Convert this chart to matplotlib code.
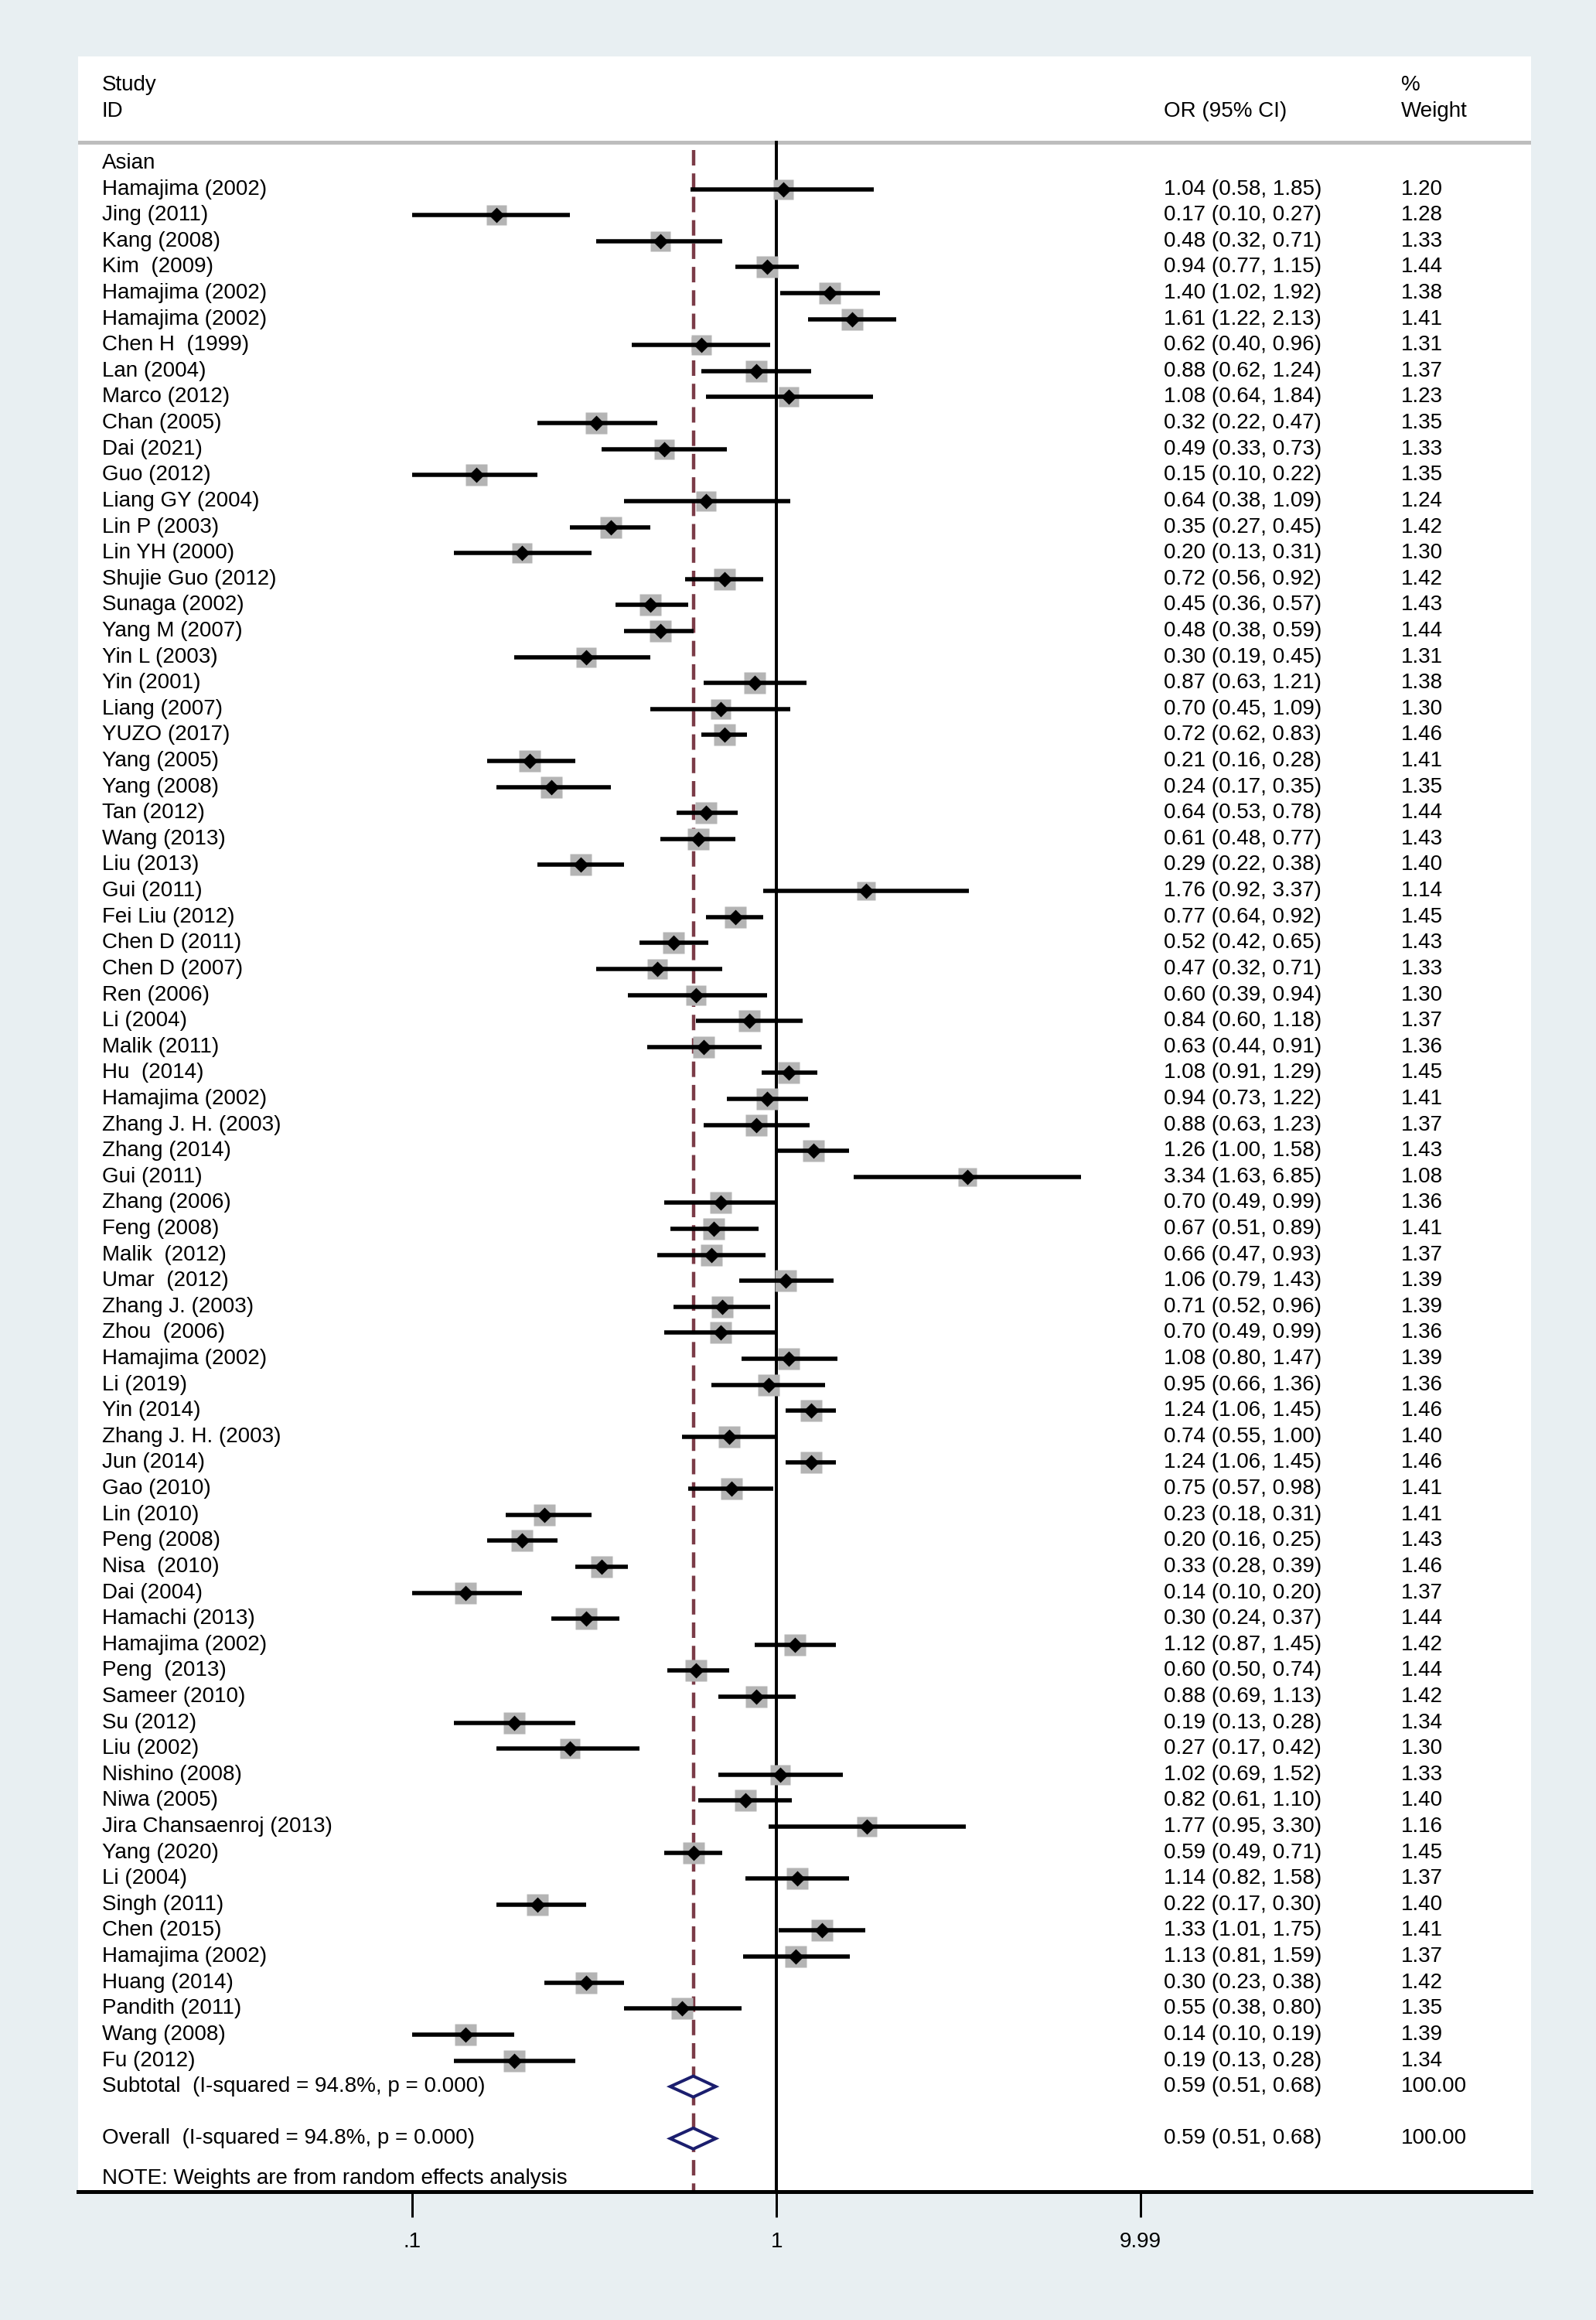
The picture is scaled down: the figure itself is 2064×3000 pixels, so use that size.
import numpy as np
import matplotlib.pyplot as plt
from matplotlib.patches import Polygon
from matplotlib.transforms import blended_transform_factory

plt.rcParams['font.family'] = ['Liberation Sans', 'DejaVu Sans']

# ---- data ----
subgroup = "Asian"
studies = [
    "Hamajima (2002)", "Jing (2011)", "Kang (2008)", "Kim  (2009)", "Hamajima (2002)",
    "Hamajima (2002)", "Chen H  (1999)", "Lan (2004)", "Marco (2012)", "Chan (2005)",
    "Dai (2021)", "Guo (2012)", "Liang GY (2004)", "Lin P (2003)", "Lin YH (2000)",
    "Shujie Guo (2012)", "Sunaga (2002)", "Yang M (2007)", "Yin L (2003)", "Yin (2001)",
    "Liang (2007)", "YUZO (2017)", "Yang (2005)", "Yang (2008)", "Tan (2012)",
    "Wang (2013)", "Liu (2013)", "Gui (2011)", "Fei Liu (2012)", "Chen D (2011)",
    "Chen D (2007)", "Ren (2006)", "Li (2004)", "Malik (2011)", "Hu  (2014)",
    "Hamajima (2002)", "Zhang J. H. (2003)", "Zhang (2014)", "Gui (2011)", "Zhang (2006)",
    "Feng (2008)", "Malik  (2012)", "Umar  (2012)", "Zhang J. (2003)", "Zhou  (2006)",
    "Hamajima (2002)", "Li (2019)", "Yin (2014)", "Zhang J. H. (2003)", "Jun (2014)",
    "Gao (2010)", "Lin (2010)", "Peng (2008)", "Nisa  (2010)", "Dai (2004)",
    "Hamachi (2013)", "Hamajima (2002)", "Peng  (2013)", "Sameer (2010)", "Su (2012)",
    "Liu (2002)", "Nishino (2008)", "Niwa (2005)", "Jira Chansaenroj (2013)", "Yang (2020)",
    "Li (2004)", "Singh (2011)", "Chen (2015)", "Hamajima (2002)", "Huang (2014)",
    "Pandith (2011)", "Wang (2008)", "Fu (2012)",
]
odds = [
    1.04, 0.17, 0.48, 0.94, 1.40, 1.61, 0.62, 0.88, 1.08, 0.32,
    0.49, 0.15, 0.64, 0.35, 0.20, 0.72, 0.45, 0.48, 0.30, 0.87,
    0.70, 0.72, 0.21, 0.24, 0.64, 0.61, 0.29, 1.76, 0.77, 0.52,
    0.47, 0.60, 0.84, 0.63, 1.08, 0.94, 0.88, 1.26, 3.34, 0.70,
    0.67, 0.66, 1.06, 0.71, 0.70, 1.08, 0.95, 1.24, 0.74, 1.24,
    0.75, 0.23, 0.20, 0.33, 0.14, 0.30, 1.12, 0.60, 0.88, 0.19,
    0.27, 1.02, 0.82, 1.77, 0.59, 1.14, 0.22, 1.33, 1.13, 0.30,
    0.55, 0.14, 0.19,
]
lower = [
    0.58, 0.10, 0.32, 0.77, 1.02, 1.22, 0.40, 0.62, 0.64, 0.22,
    0.33, 0.10, 0.38, 0.27, 0.13, 0.56, 0.36, 0.38, 0.19, 0.63,
    0.45, 0.62, 0.16, 0.17, 0.53, 0.48, 0.22, 0.92, 0.64, 0.42,
    0.32, 0.39, 0.60, 0.44, 0.91, 0.73, 0.63, 1.00, 1.63, 0.49,
    0.51, 0.47, 0.79, 0.52, 0.49, 0.80, 0.66, 1.06, 0.55, 1.06,
    0.57, 0.18, 0.16, 0.28, 0.10, 0.24, 0.87, 0.50, 0.69, 0.13,
    0.17, 0.69, 0.61, 0.95, 0.49, 0.82, 0.17, 1.01, 0.81, 0.23,
    0.38, 0.10, 0.13,
]
upper = [
    1.85, 0.27, 0.71, 1.15, 1.92, 2.13, 0.96, 1.24, 1.84, 0.47,
    0.73, 0.22, 1.09, 0.45, 0.31, 0.92, 0.57, 0.59, 0.45, 1.21,
    1.09, 0.83, 0.28, 0.35, 0.78, 0.77, 0.38, 3.37, 0.92, 0.65,
    0.71, 0.94, 1.18, 0.91, 1.29, 1.22, 1.23, 1.58, 6.85, 0.99,
    0.89, 0.93, 1.43, 0.96, 0.99, 1.47, 1.36, 1.45, 1.00, 1.45,
    0.98, 0.31, 0.25, 0.39, 0.20, 0.37, 1.45, 0.74, 1.13, 0.28,
    0.42, 1.52, 1.10, 3.30, 0.71, 1.58, 0.30, 1.75, 1.59, 0.38,
    0.80, 0.19, 0.28,
]
weights = [
    1.20, 1.28, 1.33, 1.44, 1.38, 1.41, 1.31, 1.37, 1.23, 1.35,
    1.33, 1.35, 1.24, 1.42, 1.30, 1.42, 1.43, 1.44, 1.31, 1.38,
    1.30, 1.46, 1.41, 1.35, 1.44, 1.43, 1.40, 1.14, 1.45, 1.43,
    1.33, 1.30, 1.37, 1.36, 1.45, 1.41, 1.37, 1.43, 1.08, 1.36,
    1.41, 1.37, 1.39, 1.39, 1.36, 1.39, 1.36, 1.46, 1.40, 1.46,
    1.41, 1.41, 1.43, 1.46, 1.37, 1.44, 1.42, 1.44, 1.42, 1.34,
    1.30, 1.33, 1.40, 1.16, 1.45, 1.37, 1.40, 1.41, 1.37, 1.42,
    1.35, 1.39, 1.34,
]
summary_labels = ["Subtotal  (I-squared = 94.8%, p = 0.000)",
                  "Overall  (I-squared = 94.8%, p = 0.000)"]
summary_or = [0.59, 0.59]
summary_lo = [0.51, 0.51]
summary_hi = [0.68, 0.68]
summary_w = [100.00, 100.00]
note = "NOTE: Weights are from random effects analysis"
tick_vals = [0.1, 1, 9.99]
tick_labels = [".1", "1", "9.99"]

# ---- layout (pixels of the 2064x3000 canvas) ----
W, H = 2064, 3000
px_left, px_right, px_top, px_bot = 101, 1980, 73, 2834
px_one, px_decade = 1004.5, 471.0
row0_px, row_px = 211.0, 33.61

bg = '#e8eff2'
fs = 20
pt = 72 / 100  # points per pixel at dpi 100

fig = plt.figure(figsize=(W / 100, H / 100), dpi=100, facecolor=bg)
ax = fig.add_axes([px_left / W, 1 - px_bot / H,
                   (px_right - px_left) / W, (px_bot - px_top) / H])
ax.set_facecolor('white')
ax.set_xlim((px_left - px_one) / px_decade, (px_right - px_one) / px_decade)
ax.set_ylim((px_bot - row0_px) / row_px, (px_top - row0_px) / row_px)
trans = blended_transform_factory(ax.transAxes, ax.transData)

x_lab = (132 - px_left) / (px_right - px_left)
x_or = (1505 - px_left) / (px_right - px_left)
x_wt = (1812 - px_left) / (px_right - px_left)

# header
ax.text(x_lab, -3.0, "Study", transform=trans, fontsize=fs, va='center')
ax.text(x_lab, -2.0, "ID", transform=trans, fontsize=fs, va='center')
ax.text(x_or, -2.0, "OR (95% CI)", transform=trans, fontsize=fs, va='center')
ax.text(x_wt, -3.0, "%", transform=trans, fontsize=fs, va='center')
ax.text(x_wt, -2.0, "Weight", transform=trans, fontsize=fs, va='center')
ax.axhline(-0.8, color='#bdbdbd', lw=5 * pt, zorder=1)

y_bottom = ax.get_ylim()[0]
pooled = np.log10(summary_or[1])
ax.plot([0, 0], [-0.8, y_bottom], color='black', lw=4 * pt, zorder=1)
ax.plot([pooled, pooled], [-0.5, y_bottom], color='#7b3b47', lw=3.2,
        dashes=(4.5, 2.3), zorder=1)

ax.text(x_lab, 0, subgroup, transform=trans, fontsize=fs, va='center')

for i in range(len(studies)):
    r = i + 1
    lo, hi, o = np.log10(lower[i]), np.log10(upper[i]), np.log10(odds[i])
    ax.plot(o, r, marker='s', ms=23.4 * np.sqrt(weights[i]) * pt,
            color='#b4b4b4', mec='none', zorder=2)
    ax.plot([lo, hi], [r, r], color='black', lw=5.5 * pt,
            solid_capstyle='butt', zorder=3)
    ax.plot(o, r, marker='D', ms=10.5, color='black', mec='none', zorder=4)
    ax.text(x_lab, r, studies[i], transform=trans, fontsize=fs, va='center')
    ax.text(x_or, r, f"{odds[i]:.2f} ({lower[i]:.2f}, {upper[i]:.2f})",
            transform=trans, fontsize=fs, va='center')
    ax.text(x_wt, r, f"{weights[i]:.2f}", transform=trans, fontsize=fs, va='center')

summary_rows = [len(studies) + 1, len(studies) + 3]
for r, lab, o, lo, hi, w in zip(summary_rows, summary_labels, summary_or,
                                summary_lo, summary_hi, summary_w):
    h = 13.5 / row_px
    dia = Polygon([[np.log10(lo), r], [np.log10(o), r - h],
                   [np.log10(hi), r], [np.log10(o), r + h]], closed=True,
                  facecolor='white', edgecolor='#1b1e6e', lw=4 * pt, zorder=5)
    ax.add_patch(dia)
    ax.text(x_lab, r, lab, transform=trans, fontsize=fs, va='center')
    ax.text(x_or, r, f"{o:.2f} ({lo:.2f}, {hi:.2f})", transform=trans,
            fontsize=fs, va='center')
    ax.text(x_wt, r, f"{w:.2f}", transform=trans, fontsize=fs, va='center')

ax.text(x_lab, summary_rows[1] + 1.55, note, transform=trans, fontsize=fs, va='center')

# axis
for s in ['top', 'left', 'right']:
    ax.spines[s].set_visible(False)
ax.spines['bottom'].set_linewidth(5 * pt)
ax.set_yticks([])
ax.set_xticks(np.log10(tick_vals))
ax.set_xticklabels(tick_labels)
ax.tick_params(axis='x', length=33 * pt, width=3 * pt, pad=19 * pt,
               labelsize=fs, direction='out')

fig.savefig('out.png', dpi=100, facecolor=bg)
